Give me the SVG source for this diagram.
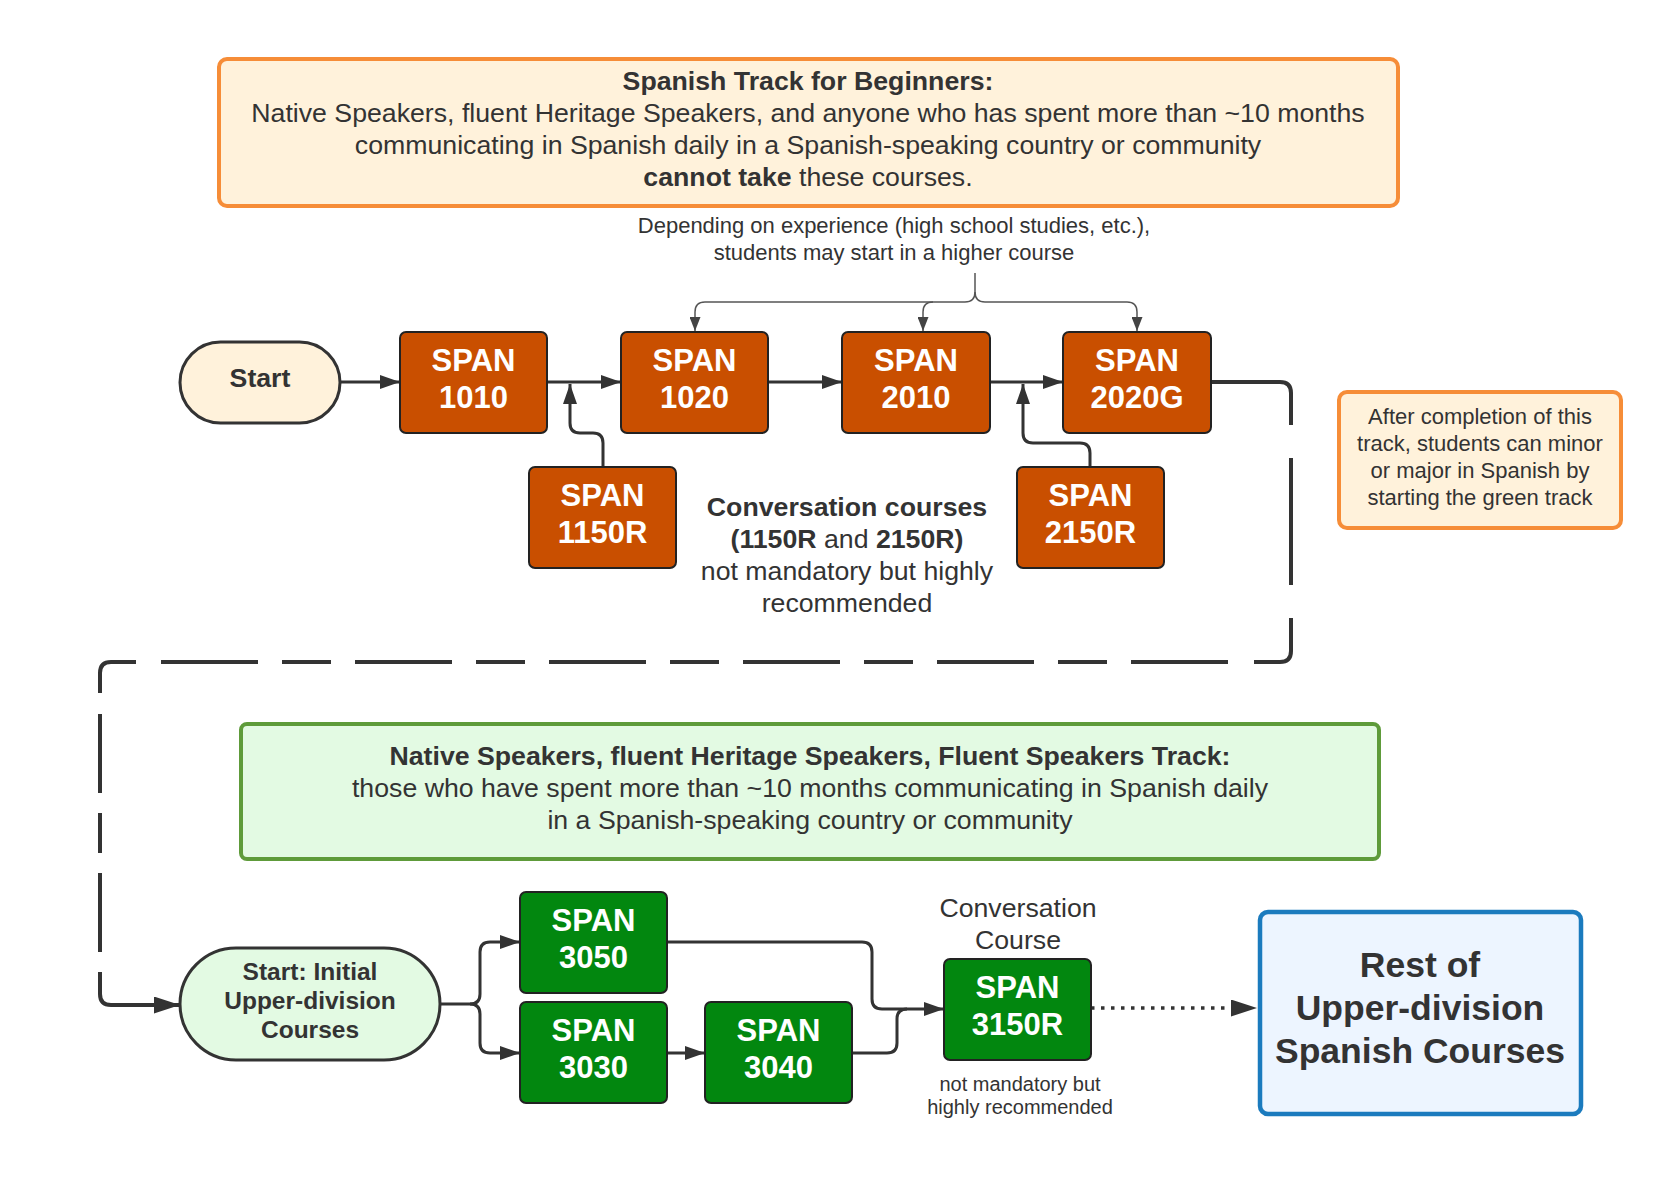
<svg xmlns="http://www.w3.org/2000/svg" width="1676" height="1202" viewBox="0 0 1676 1202">
<style>
text{font-family:"Liberation Sans",Arial,sans-serif;fill:#333;text-anchor:middle}
.b{font-weight:bold}
.t26{font-size:26.7px}
.t22{font-size:22px}
.t20{font-size:20px}
.course{font-size:31px;font-weight:bold;fill:#fff}
.orange{fill:#C94F00;stroke:#222;stroke-width:2}
.green{fill:#02870F;stroke:#222;stroke-width:2}
.conn{fill:none;stroke:#333;stroke-width:3}
.thin{fill:none;stroke:#555;stroke-width:1.5}
.thick{fill:none;stroke:#333;stroke-width:4}
.si{font-size:24.5px;font-weight:bold}
</style>
<defs>
<marker id="arr" markerUnits="userSpaceOnUse" markerWidth="20" markerHeight="14" refX="20" refY="7" orient="auto"><path d="M0,0 L20,7 L0,14 z" fill="#333"/></marker>
<marker id="arrs" markerUnits="userSpaceOnUse" markerWidth="14" markerHeight="11" refX="14" refY="5.5" orient="auto"><path d="M0,0 L14,5.5 L0,11 z" fill="#444"/></marker>
<marker id="arrb" markerUnits="userSpaceOnUse" markerWidth="26" markerHeight="17" refX="26" refY="8.5" orient="auto"><path d="M0,0 L26,8.5 L0,17 z" fill="#333"/></marker>
</defs>
<rect width="1676" height="1202" fill="#fff"/>

<g id="beginners-note">
<rect x="219" y="59" width="1179" height="147" rx="8" fill="#FFF2DB" stroke="#F68D38" stroke-width="4"/>
<text x="808" y="90" class="t26 b">Spanish Track for Beginners:</text>
<text x="808" y="122" class="t26">Native Speakers, fluent Heritage Speakers, and anyone who has spent more than ~10 months</text>
<text x="808" y="154" class="t26">communicating in Spanish daily in a Spanish-speaking country or community</text>
<text x="808" y="186" class="t26"><tspan class="b">cannot take</tspan> these courses.</text>
</g>

<g id="depending-label">
<text x="894" y="233" class="t22">Depending on experience (high school studies, etc.),</text>
<text x="894" y="260" class="t22">students may start in a higher course</text>
</g>

<g id="connectors">
<path class="thin" d="M975 273 V292 Q975 302 965 302 H705 Q695 302 695 312 V331" marker-end="url(#arrs)"/>
<path class="thin" d="M933 302 Q923 302 923 312 V331" marker-end="url(#arrs)"/>
<path class="thin" d="M975 292 Q975 302 985 302 H1127 Q1137 302 1137 312 V331" marker-end="url(#arrs)"/>
<path class="conn" d="M340 382 H400" marker-end="url(#arr)"/>
<path class="conn" d="M547 382 H621" marker-end="url(#arr)"/>
<path class="conn" d="M768 382 H842" marker-end="url(#arr)"/>
<path class="conn" d="M990 382 H1063" marker-end="url(#arr)"/>
<path class="conn" d="M603 467 V443 Q603 433 593 433 H580 Q570 433 570 423 V384" marker-end="url(#arr)"/>
<path class="conn" d="M1090 467 V453 Q1090 443 1080 443 H1033 Q1023 443 1023 433 V384" marker-end="url(#arr)"/>
<path class="thick" d="M1211 382 H1280 Q1291 382 1291 393 V425"/>
<path class="thick" d="M1291 458 V585"/>
<path class="thick" d="M1291 618 V651 Q1291 662 1280 662 H1254"/>
<path class="thick" d="M1228 662 H161" stroke-dasharray="97 24 49 24"/>
<path class="thick" d="M136 662 H111 Q100 662 100 673 V693"/>
<path class="thick" d="M100 714 V952" stroke-dasharray="79 20 40 20"/>
<path class="thick" d="M100 972 V994 Q100 1005 111 1005 H180" marker-end="url(#arrb)"/>
<path class="conn" d="M441 1004 H470 Q480 1004 480 994 V952 Q480 942 490 942 H520" marker-end="url(#arr)"/>
<path class="conn" d="M470 1004 Q480 1004 480 1014 V1043 Q480 1053 490 1053 H520" marker-end="url(#arr)"/>
<path class="conn" d="M667 1053 H705" marker-end="url(#arr)"/>
<path class="conn" d="M667 942 H862 Q872 942 872 952 V999 Q872 1009 882 1009 H944" marker-end="url(#arr)"/>
<path class="conn" d="M852 1053 H887 Q897 1053 897 1043 V1019 Q897 1009 907 1009"/>
<path d="M1091 1008 H1234" fill="none" stroke="#333" stroke-width="3.5" stroke-dasharray="3.5 6.5"/>
<path d="M1232 1008 H1257" fill="none" stroke="none" marker-end="url(#arrb)"/>
</g>

<g id="start">
<rect x="180" y="342" width="160" height="81" rx="40.5" fill="#FFF2DB" stroke="#333" stroke-width="3"/>
<text x="260" y="387" class="t26 b">Start</text>
</g>
<g id="span1010">
<rect class="orange" x="400" y="332" width="147" height="101" rx="6"/>
<text x="473.5" y="370.5" class="course">SPAN</text><text x="473.5" y="407.5" class="course">1010</text>
</g>
<g id="span1020">
<rect class="orange" x="621" y="332" width="147" height="101" rx="6"/>
<text x="694.5" y="370.5" class="course">SPAN</text><text x="694.5" y="407.5" class="course">1020</text>
</g>
<g id="span2010">
<rect class="orange" x="842" y="332" width="148" height="101" rx="6"/>
<text x="916" y="370.5" class="course">SPAN</text><text x="916" y="407.5" class="course">2010</text>
</g>
<g id="span2020g">
<rect class="orange" x="1063" y="332" width="148" height="101" rx="6"/>
<text x="1137" y="370.5" class="course">SPAN</text><text x="1137" y="407.5" class="course">2020G</text>
</g>
<g id="span1150r">
<rect class="orange" x="529" y="467" width="147" height="101" rx="6"/>
<text x="602.5" y="505.5" class="course">SPAN</text><text x="602.5" y="542.5" class="course">1150R</text>
</g>
<g id="span2150r">
<rect class="orange" x="1017" y="467" width="147" height="101" rx="6"/>
<text x="1090.5" y="505.5" class="course">SPAN</text><text x="1090.5" y="542.5" class="course">2150R</text>
</g>

<g id="conversation-note">
<text x="847" y="516" class="t26 b">Conversation courses</text>
<text x="847" y="548" class="t26"><tspan class="b">(1150R</tspan> and <tspan class="b">2150R)</tspan></text>
<text x="847" y="580" class="t26">not mandatory but highly</text>
<text x="847" y="612" class="t26">recommended</text>
</g>

<g id="after-note">
<rect x="1339" y="392" width="282" height="136" rx="8" fill="#FFF2DB" stroke="#F68D38" stroke-width="4"/>
<text x="1480" y="424" class="t22">After completion of this</text>
<text x="1480" y="451" class="t22">track, students can minor</text>
<text x="1480" y="478" class="t22">or major in Spanish by</text>
<text x="1480" y="505" class="t22">starting the green track</text>
</g>

<g id="fluent-note">
<rect x="241" y="724" width="1138" height="135" rx="6" fill="#E3FAE3" stroke="#5E9B3A" stroke-width="4"/>
<text x="810" y="765" class="t26 b">Native Speakers, fluent Heritage Speakers, Fluent Speakers Track:</text>
<text x="810" y="797" class="t26">those who have spent more than ~10 months communicating in Spanish daily</text>
<text x="810" y="829" class="t26">in a Spanish-speaking country or community</text>
</g>

<g id="start-initial">
<rect x="180" y="948" width="260" height="112" rx="56" fill="#E3FAE3" stroke="#333" stroke-width="3"/>
<text x="310" y="980" class="si">Start: Initial</text>
<text x="310" y="1009" class="si">Upper-division</text>
<text x="310" y="1038" class="si">Courses</text>
</g>
<g id="span3050">
<rect class="green" x="520" y="892" width="147" height="101" rx="6"/>
<text x="593.5" y="930.5" class="course">SPAN</text><text x="593.5" y="967.5" class="course">3050</text>
</g>
<g id="span3030">
<rect class="green" x="520" y="1002" width="147" height="101" rx="6"/>
<text x="593.5" y="1040.5" class="course">SPAN</text><text x="593.5" y="1077.5" class="course">3030</text>
</g>
<g id="span3040">
<rect class="green" x="705" y="1002" width="147" height="101" rx="6"/>
<text x="778.5" y="1040.5" class="course">SPAN</text><text x="778.5" y="1077.5" class="course">3040</text>
</g>
<g id="span3150r">
<text x="1018" y="917" class="t26">Conversation</text>
<text x="1018" y="949" class="t26">Course</text>
<rect class="green" x="944" y="959" width="147" height="101" rx="6"/>
<text x="1017.5" y="997.5" class="course">SPAN</text><text x="1017.5" y="1034.5" class="course">3150R</text>
<text x="1020" y="1091" class="t20">not mandatory but</text>
<text x="1020" y="1114" class="t20">highly recommended</text>
</g>
<g id="rest-upper">
<rect x="1260" y="912" width="321" height="202" rx="8" fill="#EDF5FF" stroke="#1B7BBE" stroke-width="4.5"/>
<text x="1420" y="977" class="b" style="font-size:35.5px">Rest of</text>
<text x="1420" y="1020" class="b" style="font-size:35.5px">Upper-division</text>
<text x="1420" y="1063" class="b" style="font-size:35.5px">Spanish Courses</text>
</g>
</svg>
